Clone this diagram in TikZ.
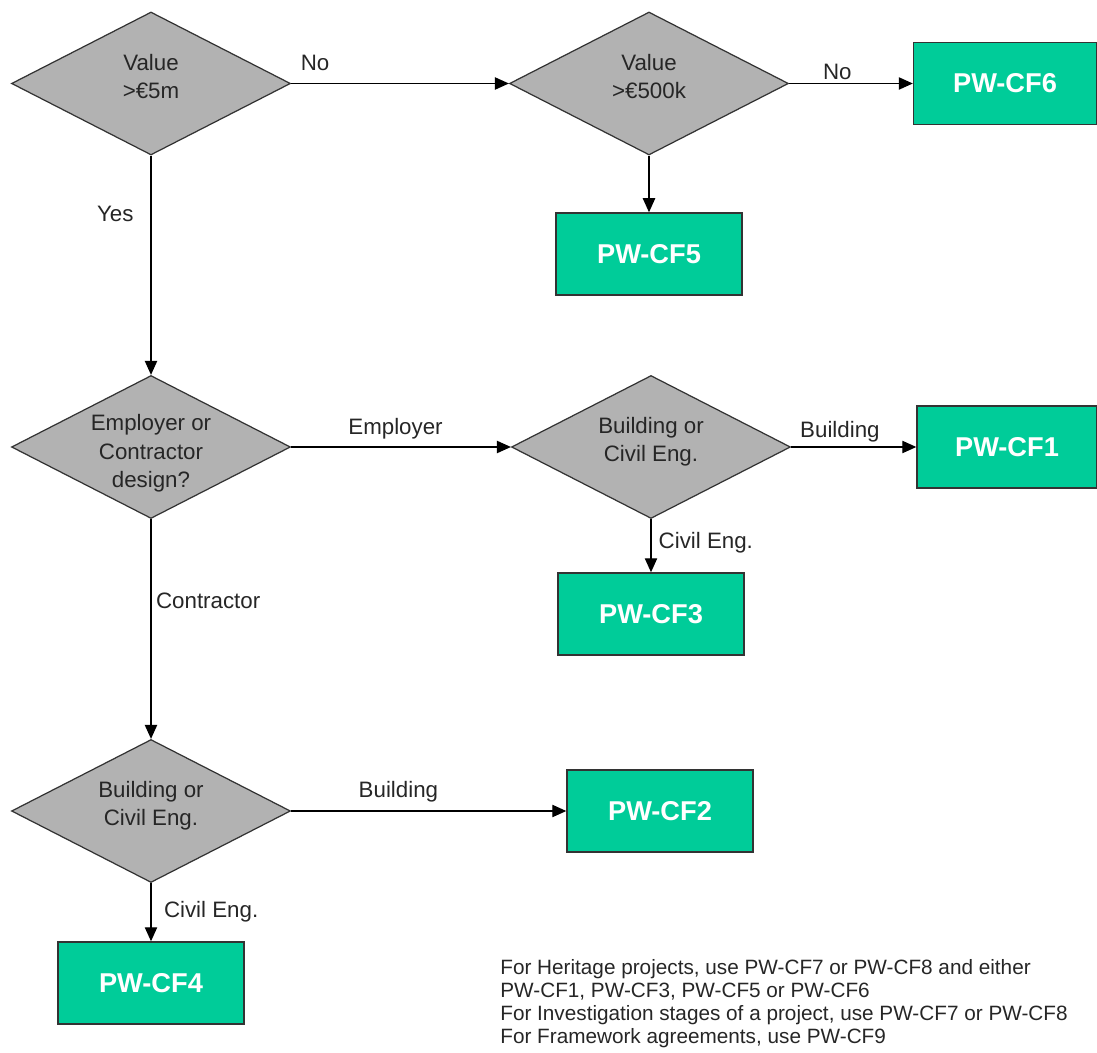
\documentclass[tikz,border=0pt]{standalone}
\usepackage{fontspec}
\setmainfont{Liberation Sans}
\usetikzlibrary{arrows.meta,shapes.geometric}
\definecolor{diamondgray}{RGB}{178,178,178}
\definecolor{cfgreen}{RGB}{0,204,153}
% shifted text inside a decision
\newcommand{\dlines}[2][0.1pt]{\raisebox{#1}[0pt][0pt]{\begin{tabular}{@{}c@{}}#2\end{tabular}}}

\begin{document}
\begin{tikzpicture}[
    x=0.02cm,
    y=-0.02cm,
    decision/.style={diamond, draw=black!80, fill=diamondgray, line width=0.7pt, inner sep=0pt, aspect=1.95, minimum width=5.58cm, minimum height=2.86cm, align=center, font=\fontsize{12.7}{16.2}\selectfont, text=black!85},
    form/.style={rectangle, draw=black!80, fill=cfgreen, line width=0.8pt, minimum width=3.72cm, minimum height=1.64cm, font=\fontsize{15.5}{18}\selectfont\bfseries, text=white},
    arrow/.style={-{Triangle[length=8pt,width=7pt]}, line width=0.8pt},
    lbl/.style={font=\fontsize{12.7}{15}\selectfont, inner sep=1pt, text=black!85},
    note/.style={align=left, font=\fontsize{11.8}{13.2}\selectfont, inner sep=0pt, text=black!85}
]
\useasboundingbox (0,0) rectangle (1097,1053);

% Decisions
\node[decision] (value_5m) at (151,83.5) {\dlines[-0.4pt]{Value\\>€5m}};
\node[decision] (value_500k) at (649,83.5) {\dlines[-0.4pt]{Value\\>€500k}};
\node[decision] (design) at (151,447) {\dlines[-6.6pt]{Employer or\\Contractor\\design?}};
\node[decision] (type_employer) at (651,447) {\dlines{Building or\\Civil Eng.}};
\node[decision] (type_contractor) at (151,811) {\dlines{Building or\\Civil Eng.}};

% Contract forms
\node[form, minimum width=3.66cm] (cf6) at (1005,83.5) {PW-CF6};
\node[form] (cf5) at (649,254) {PW-CF5};
\node[form, minimum width=3.6cm] (cf1) at (1007,447) {PW-CF1};
\node[form] (cf3) at (651,614) {PW-CF3};
\node[form] (cf2) at (660,811) {PW-CF2};
\node[form] (cf4) at (151,983) {PW-CF4};

% Notes
\node[note, anchor=north west] (remarks) at (500,959) {For Heritage projects, use PW-CF7 or PW-CF8 and either\\PW-CF1, PW-CF3, PW-CF5 or PW-CF6\\For Investigation stages of a project, use PW-CF7 or PW-CF8\\For Framework agreements, use PW-CF9};

% Value branch
\draw[arrow] (value_5m.east) -- node[lbl, pos=0.11, above=6pt] {No} (value_500k.west);
\draw[arrow] (value_500k.east) -- node[lbl, pos=0.39, above=1pt] {No} (cf6.west);
\draw[arrow] (value_500k.south) -- (cf5.north);
\draw[arrow] (value_5m.south) -- node[lbl, pos=0.265, left=8.6pt] {Yes} (design.north);

% Employer design
\draw[arrow] (design.east) -- node[lbl, pos=0.475, above=3pt] {Employer} (type_employer.west);
\draw[arrow] (type_employer.east) -- node[lbl, pos=0.39, above=1.5pt] {Building} (cf1.west);
\draw[arrow] (type_employer.south) -- node[lbl, pos=0.45, right=3pt] {Civil Eng.} (cf3.north);

% Contractor design
\draw[arrow] (design.south) -- node[lbl, pos=0.37, right=1.5pt] {Contractor} (type_contractor.north);
\draw[arrow] (type_contractor.east) -- node[lbl, pos=0.39, above=3.7pt] {Building} (cf2.west);
\draw[arrow] (type_contractor.south) -- node[lbl, pos=0.5, right=6pt] {Civil Eng.} (cf4.north);

\end{tikzpicture}
\end{document}
